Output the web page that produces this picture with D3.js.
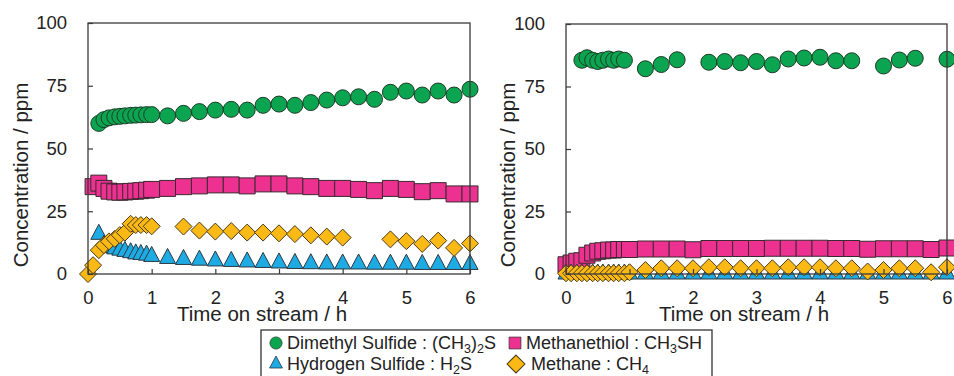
<!DOCTYPE html>
<html>
<head>
<meta charset="utf-8">
<script src="https://cdn.jsdelivr.net/npm/d3@7"></script>
<style>
  body { margin: 0; background: #fff; }
  svg { display: block; font-family: "Liberation Sans", Arial, sans-serif; }
</style>
</head>
<body>
<script>
// time on stream (h), shared by every series; null = no point at that time
var hours = [0, 0.08, 0.17, 0.25, 0.33, 0.42, 0.5, 0.58, 0.67, 0.75, 0.83, 0.92, 1,
  1.25, 1.5, 1.75, 2, 2.25, 2.5, 2.75, 3, 3.25, 3.5, 3.75, 4, 4.25, 4.5, 4.75, 5, 5.25, 5.5, 5.75, 6];

// left panel
var dmsLeft = [null, null, 60.0, 61.5, 62.2, 62.6, 62.8, 63.0, 63.2, 63.3, 63.4, 63.5, 63.5,
  63.0, 64.0, 64.7, 65.3, 65.6, 65.3, 67.2, 67.7, 67.2, 68.3, 69.3, 70.2, 70.6, 69.6, 72.4, 72.9, 71.3, 72.9, 71.3, 73.6];
var meshLeft = [null, 34.8, 36.2, 34.1, 33.0, 32.7, 32.6, 32.7, 32.9, 33.0, 33.2, 33.4, 33.7,
  34.1, 34.8, 35.1, 35.5, 35.5, 35.1, 35.9, 35.9, 35.1, 34.8, 34.1, 34.1, 33.7, 33.2, 34.1, 33.7, 32.8, 33.2, 31.9, 31.9];
var h2sLeft = [null, null, 15.8, 11.5, 10.5, 10.0, 9.5, 9.0, 8.5, 8.0, 7.8, 7.5, 7.0,
  6.2, 5.8, 5.5, 5.2, 5.0, 4.8, 4.6, 4.4, 4.2, 4.1, 4.0, 4.0, 4.0, 3.9, 3.9, 3.9, 3.8, 3.8, 3.8, 3.8];
var ch4Left = [0, 3.5, 9.5, 11.5, 13.0, 14.0, 15.5, 16.5, 20.0, 19.5, 19.5, 19.5, 19.0,
  null, 18.9, 17.3, 16.9, 17.1, 16.5, 16.5, 16.2, 15.9, 15.4, 14.9, 14.5, null, null, 13.8, 13.1, 12.0, 13.3, 10.4, 12.2];

// right panel
var dmsRight = [null, null, null, 85.5, 86.5, 85.5, 85.0, 85.5, 86.0, 85.5, 86.0, 85.5, null,
  82.1, 83.8, 85.7, null, 84.7, 85.0, 84.5, 85.0, 83.7, 86.0, 86.4, 86.7, 85.3, 85.3, null, 83.2, 85.6, 86.3, null, 85.9];
var meshRight = [3.7, 4.4, 5.1, 5.3, 7.5, 8.4, 9.1, 9.3, 9.6, 9.6, 9.8, 9.8, 9.8,
  10.0, 10.0, 10.0, 9.7, 10.2, 10.2, 10.2, 10.2, 10.3, 10.3, 10.3, 10.3, 10.2, 10.2, 9.9, 10.1, 10.1, 10.1, 9.8, 10.4];
var h2sRight = [0, 0, 0, 0, 0, 0, 0, 0, 0, 0, 0, 0, 0,
  0, 0, 0, 0, 0, 0, 0, 0, 0, 0, 0, 0, 0, 0, 0, 0, 0, 0, 0, 0];
var ch4Right = [0.3, 0.3, 0.3, 0.3, 0.3, 0.3, 0.3, 0.3, 0.3, 0.3, 0.3, 0.3, 0.7,
  1.6, 2.3, 2.3, 2.3, 2.7, 2.7, 2.3, 2.3, 2.3, 2.7, 2.7, 2.7, 2.3, 2.3, 1.0, 1.6, 2.3, 2.3, 0.7, 2.7];

var xTicks = [0, 1, 2, 3, 4, 5, 6];
var yTicks = [0, 25, 50, 75, 100];

var width = 954, height = 376;
var ink = "#222";
var font = "'Liberation Sans', Arial, sans-serif";

var svg = d3.select("body").append("svg")
  .attr("width", width)
  .attr("height", height);

// marker shapes, centred on the data point
var shapes = {
  circle: "M8,0A8,8,0,1,1,-8,0A8,8,0,1,1,8,0Z",
  square: "M-8,-8H8V8H-8Z",
  triangle: "M0,-10L8,5L-8,5Z",
  diamond: "M0,-8.5L8.5,0L0,8.5L-8.5,0Z"
};

var series = [
  { key: "dms", shape: "circle", fill: "#0ba551", stroke: "#1e3b26", legendScale: 0.76 },
  { key: "mesh", shape: "square", fill: "#ec3190", stroke: "#3a2a30", legendScale: 0.74 },
  { key: "h2s", shape: "triangle", fill: "#1eaae2", stroke: "#2a3a44", legendScale: 0.8 },
  { key: "ch4", shape: "diamond", fill: "#fbb915", stroke: "#4a3a1a", legendScale: 1.05 }
];

var panels = [
  { left: 88, right: 470, top: 23, bottom: 274, titleX: 28, titleCx: 262,
    values: { dms: dmsLeft, mesh: meshLeft, h2s: h2sLeft, ch4: ch4Left } },
  { left: 566, right: 947, top: 24, bottom: 274, titleX: 515, titleCx: 744,
    values: { dms: dmsRight, mesh: meshRight, h2s: h2sRight, ch4: ch4Right } }
];

panels.forEach(function(p) {
  var x = d3.scaleLinear().domain([0, 6]).range([p.left, p.right]);
  var y = d3.scaleLinear().domain([0, 100]).range([p.bottom, p.top]);
  var g = svg.append("g");

  // markers
  series.forEach(function(s) {
    var pts = hours.map(function(t, i) { return [t, p.values[s.key][i]]; })
      .filter(function(d) { return d[1] != null; });
    g.append("g").selectAll("path")
      .data(pts)
      .join("path")
      .attr("d", shapes[s.shape])
      .attr("transform", function(d) { return "translate(" + x(d[0]) + "," + y(d[1]) + ")"; })
      .attr("fill", s.fill)
      .attr("stroke", s.stroke)
      .attr("stroke-width", 1);
  });

  // frame
  g.append("rect")
    .attr("x", p.left).attr("y", p.top)
    .attr("width", p.right - p.left).attr("height", p.bottom - p.top)
    .attr("fill", "none").attr("stroke", "#3a3a3a").attr("stroke-width", 1.3);

  var ya = g.append("g")
    .attr("transform", "translate(" + p.left + ",0)")
    .call(d3.axisLeft(y).tickValues(yTicks).tickFormat(d3.format("d")).tickSize(-5).tickPadding(21));
  var xa = g.append("g")
    .attr("transform", "translate(0," + p.bottom + ")")
    .call(d3.axisBottom(x).tickValues(xTicks).tickFormat(d3.format("d")).tickSize(-5).tickPadding(17));
  [ya, xa].forEach(function(a) {
    a.select(".domain").remove();
    a.selectAll("line").attr("stroke", "#3a3a3a").attr("stroke-width", 1.2);
    a.selectAll("text").attr("fill", ink).style("font-size", "18.5px").style("font-family", font);
  });

  svg.append("text")
    .attr("transform", "translate(" + p.titleX + ",175) rotate(-90)")
    .attr("text-anchor", "middle")
    .attr("fill", ink)
    .style("font-family", font)
    .style("font-size", "20.5px")
    .text("Concentration / ppm");

  svg.append("text")
    .attr("x", p.titleCx).attr("y", 321)
    .attr("text-anchor", "middle")
    .attr("fill", ink)
    .style("font-family", font)
    .style("font-size", "20.5px")
    .text("Time on stream / h");
});

// legend
var legend = svg.append("g");
legend.append("rect")
  .attr("x", 261).attr("y", 330).attr("width", 451).attr("height", 60)
  .attr("fill", "#fff").attr("stroke", "#333").attr("stroke-width", 1.3);

var legendItems = [
  { s: 0, x: 276, y: 343, tx: 287, parts: [["Dimethyl Sulfide : (CH"], ["3", 1], [")"], ["2", 1], ["S"]] },
  { s: 1, x: 515, y: 343, tx: 526, parts: [["Methanethiol : CH"], ["3", 1], ["SH"]] },
  { s: 2, x: 276, y: 364, tx: 287, parts: [["Hydrogen Sulfide : H"], ["2", 1], ["S"]] },
  { s: 3, x: 516, y: 364, tx: 531, parts: [["Methane : CH"], ["4", 1]] }
];

legendItems.forEach(function(it) {
  var s = series[it.s];
  legend.append("path")
    .attr("d", shapes[s.shape])
    .attr("transform", "translate(" + it.x + "," + it.y + ") scale(" + s.legendScale + ")")
    .attr("fill", s.fill).attr("stroke", s.stroke).attr("stroke-width", 1);
  var txt = legend.append("text")
    .attr("x", it.tx)
    .attr("y", it.y + 6)
    .attr("fill", ink)
    .style("font-family", font)
    .style("font-size", "18px");
  var shifted = false;
  it.parts.forEach(function(pt) {
    var sub = pt[1] === 1;
    var dy = sub ? (shifted ? 0 : 4) : (shifted ? -4 : 0);
    txt.append("tspan")
      .attr("dy", dy)
      .style("font-size", sub ? "12.5px" : "18px")
      .text(pt[0]);
    shifted = sub;
  });
});
</script>
</body>
</html>
